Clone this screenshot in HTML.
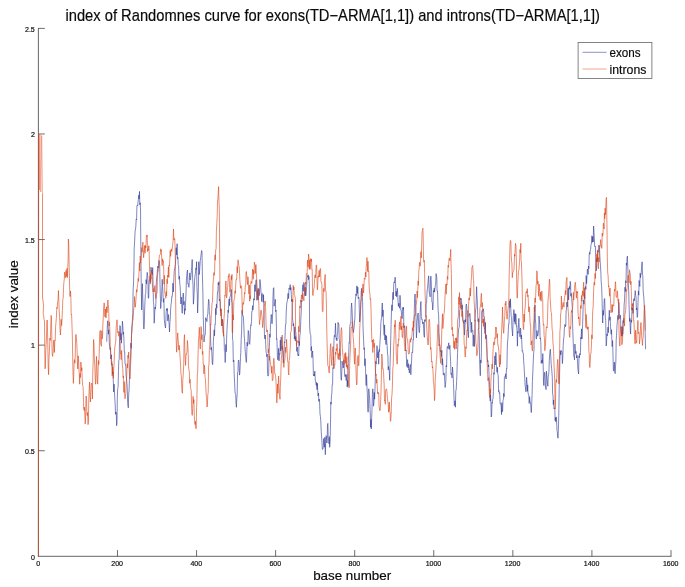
<!DOCTYPE html>
<html><head><meta charset="utf-8"><title>index of Randomnes</title>
<style>
html,body{margin:0;padding:0;background:#fff;}
body{width:685px;height:587px;overflow:hidden;font-family:"Liberation Sans",sans-serif;}
svg{display:block;font-family:"Liberation Sans",sans-serif;will-change:transform;transform:translateZ(0);opacity:0.999;}
</style></head><body>
<svg width="685" height="587" viewBox="0 0 685 587">
<rect width="685" height="587" fill="#fff"/>
<text x="65.5" y="21.2" font-size="16.2" fill="#0a0a0a" stroke="#0a0a0a" stroke-width="0.18" textLength="534.5" lengthAdjust="spacingAndGlyphs">index of Randomnes curve for exons(TD&#8722;ARMA[1,1]) and introns(TD&#8722;ARMA[1,1])</text>
<g stroke="#555" stroke-width="0.9" fill="none">
<line x1="38.4" y1="28.0" x2="38.4" y2="556.6999999999999"/>
<line x1="38.0" y1="556.3" x2="671.4" y2="556.3"/>
</g>
<g stroke="#484848" stroke-width="0.8" fill="none">
<line x1="117.47" y1="556.3" x2="117.47" y2="550.1"/><line x1="196.55" y1="556.3" x2="196.55" y2="550.1"/><line x1="275.62" y1="556.3" x2="275.62" y2="550.1"/><line x1="354.70" y1="556.3" x2="354.70" y2="550.1"/><line x1="433.77" y1="556.3" x2="433.77" y2="550.1"/><line x1="512.85" y1="556.3" x2="512.85" y2="550.1"/><line x1="591.92" y1="556.3" x2="591.92" y2="550.1"/><line x1="671.00" y1="556.3" x2="671.00" y2="550.1"/>
<line x1="38.4" y1="450.72" x2="44.8" y2="450.72"/><line x1="38.4" y1="345.14" x2="44.8" y2="345.14"/><line x1="38.4" y1="239.56" x2="44.8" y2="239.56"/><line x1="38.4" y1="133.98" x2="44.8" y2="133.98"/><line x1="38.4" y1="28.40" x2="44.8" y2="28.40"/>
</g>
<g fill="none" stroke-linejoin="round" stroke-linecap="butt">
<polyline stroke="#2b3596" stroke-width="0.6" points="106.7,341.7 107.2,328.4 107.6,321.0 108.0,320.7 108.4,334.2 108.9,329.7 109.3,342.9 109.7,347.6 110.1,349.5 110.5,347.6 110.9,359.0 111.4,354.8 111.8,365.3 112.2,364.1 112.6,374.0 113.0,372.0 113.3,381.0 113.7,392.0 114.1,384.1 114.4,390.5 114.8,398.8 115.2,404.7 115.5,414.3 115.9,412.0 116.3,412.8 116.6,425.7 117.0,422.5 117.3,397.8 117.7,388.6 118.1,387.4 118.5,370.4 118.8,360.6 119.2,359.3 119.6,336.0 119.9,325.6 120.3,326.7 120.7,339.8 121.0,333.4 121.4,343.2 121.7,337.3 122.1,330.9 122.4,321.2 122.8,325.3 123.2,334.3 123.5,332.2 123.9,338.7 124.3,352.0 124.7,352.0 125.0,363.8 125.4,363.9 125.8,366.4 126.1,375.2 126.5,378.3 126.9,383.4 127.2,386.7 127.6,401.0 127.9,405.1 128.3,407.8 128.7,394.1 129.1,389.9 129.4,379.5 129.8,375.6 130.2,360.0 130.6,356.8 130.9,343.1 131.3,348.2 131.7,326.8 132.0,325.4 132.4,320.0 132.8,312.4 133.1,290.1 133.5,284.0 133.9,269.8 134.2,248.2 134.6,242.0 135.1,231.0 135.5,229.2 135.8,226.8 136.2,219.2 136.6,220.0 136.9,206.5 137.3,205.0 137.7,205.7 138.0,202.1 138.4,199.6 138.8,195.2 139.1,198.8 139.5,191.4 139.8,204.8 140.2,202.7 140.5,209.0 141.0,266.0 141.3,290.8 141.7,310.0 142.1,289.4 142.4,283.7 142.8,298.5 143.2,308.9 143.5,326.1 143.9,329.0 144.3,325.7 144.7,307.8 145.0,300.8 145.4,294.0 145.8,293.4 146.1,279.6 146.5,283.8 146.9,275.7 147.2,272.4 147.6,275.0 147.9,279.2 148.3,298.3 148.7,298.1 149.1,282.5 149.4,279.8 149.8,279.3 150.2,276.1 150.6,282.3 151.0,267.2 151.5,271.8 151.9,271.8 152.3,274.7 152.7,267.6 153.1,286.9 153.4,301.6 153.8,305.5 154.2,323.2 154.6,315.1 155.0,307.0 155.4,309.1 155.9,303.4 156.3,282.8 156.7,277.3 157.1,275.0 157.5,268.8 157.8,266.0 158.2,268.1 158.6,267.6 158.9,260.4 159.3,261.7 159.7,265.0 160.0,283.8 160.3,294.7 160.7,308.6 161.1,302.4 161.4,301.7 161.8,289.9 162.2,279.3 162.6,286.2 163.0,294.6 163.4,302.3 163.9,298.4 164.3,319.4 164.7,323.3 165.1,326.0 165.5,328.0 165.8,322.4 166.2,311.1 166.6,308.6 167.0,310.5 167.4,308.5 167.8,320.9 168.3,314.5 168.7,318.0 169.1,324.5 169.5,332.0 169.9,322.7 170.2,319.8 170.6,310.1 171.0,304.5 171.4,302.3 171.8,296.7 172.1,296.9 172.5,294.0 172.9,283.1 173.3,292.0 173.7,283.3 174.2,271.2 174.6,268.8 175.0,266.6 175.4,264.6 175.8,257.1 176.2,247.7 176.7,254.9 177.1,243.7 177.5,258.8 177.9,257.4 178.2,264.8 178.6,265.5 179.0,279.3 179.4,276.2 179.8,284.0 180.1,286.3 180.5,294.0 180.9,304.0 181.2,297.0 181.6,299.0 182.0,311.5 182.3,313.3 182.7,300.3 183.0,294.0 183.4,293.1 183.8,304.9 184.1,301.3 184.5,314.4 184.9,308.7 185.2,310.4 185.6,302.4 186.0,293.5 186.4,280.1 186.7,276.2 187.1,272.0 187.5,270.0 187.8,283.9 188.2,283.5 188.6,286.6 189.0,287.3 189.4,277.7 189.8,272.9 190.2,279.9 190.6,279.8 191.0,274.5 191.4,270.7 191.8,266.7 192.2,259.5 192.6,278.5 193.0,284.7 193.4,304.2 193.8,299.1 194.2,291.1 194.6,280.3 195.0,274.9 195.4,273.9 195.8,268.2 196.2,269.6 196.6,261.7 196.9,286.6 197.3,295.0 197.6,313.0 198.0,303.3 198.4,287.1 198.8,261.7 199.2,274.6 199.5,272.0 199.9,266.6 200.3,260.4 200.8,257.1 201.2,253.2 201.6,250.5 202.0,251.5 202.4,274.9 202.9,294.0 203.2,314.8 203.6,327.8 203.9,336.0 204.0,342.0 204.4,337.3 204.8,335.8 205.3,333.9 205.7,317.7 206.1,320.0 206.5,319.6 206.9,321.6 207.3,316.7 207.8,313.5 208.2,306.2 208.6,299.3 209.0,301.2 209.4,314.7 209.8,315.6 210.2,327.0 210.6,339.3 211.0,349.8 211.5,347.4 211.9,355.0 212.3,364.0 212.7,364.7 213.0,356.5 213.4,341.4 213.8,335.0 214.2,329.8 214.5,335.8 214.9,324.4 215.3,324.6 215.7,308.3 216.0,314.8 216.4,304.2 216.8,308.2 217.1,300.5 217.5,292.1 217.9,292.2 218.2,282.7 218.6,285.0 219.0,281.6 219.3,300.9 219.7,299.3 220.1,301.2 220.4,311.2 220.8,308.6 221.2,311.6 221.6,322.7 222.0,325.9 222.5,319.3 222.9,324.0 223.3,329.1 223.7,336.0 224.1,338.2 224.4,350.7 224.8,351.8 225.2,362.5 225.5,355.2 225.9,344.5 226.2,351.8 226.6,339.0 227.0,329.3 227.3,323.8 227.7,318.7 228.1,310.0 228.4,312.6 228.8,301.5 229.2,298.8 229.5,305.7 229.9,297.1 230.3,296.2 230.6,294.5 231.0,292.7 231.3,289.6 231.7,301.9 232.1,302.7 232.4,313.2 232.5,339.3 232.9,340.1 233.3,361.9 233.8,360.1 234.2,374.0 234.6,383.2 235.0,391.7 235.3,393.8 235.7,394.7 236.0,402.8 236.4,407.3 236.8,399.0 237.2,393.7 237.5,372.9 237.9,371.4 238.3,361.2 238.7,360.0 239.1,363.6 239.4,375.1 239.8,373.5 240.2,365.1 240.5,357.4 240.8,352.3 241.2,339.3 241.6,331.8 242.0,310.3 242.3,311.1 242.7,315.7 243.1,315.6 243.4,317.3 243.8,324.8 244.2,335.2 244.5,338.5 244.9,346.6 245.3,352.0 245.7,356.0 246.1,361.2 246.4,362.4 246.8,351.9 247.1,342.2 247.5,346.1 247.8,344.6 248.2,330.5 248.6,332.0 248.9,335.2 249.3,343.9 249.7,344.3 250.0,340.7 250.4,329.8 250.8,324.8 251.1,325.5 251.5,321.7 251.8,311.5 252.2,311.4 252.6,305.7 252.9,310.0 253.3,307.2 253.7,298.6 254.1,300.2 254.4,300.0 254.8,284.7 255.2,291.5 255.5,287.6 255.9,282.5 256.2,279.7 256.6,295.6 256.9,300.3 257.3,295.6 257.7,290.1 258.1,300.0 258.4,289.0 258.8,288.8 259.2,295.7 259.6,291.4 259.9,279.5 260.3,282.5 260.6,286.1 261.0,292.3 261.4,294.0 261.7,301.5 262.1,293.9 262.4,293.5 262.8,294.2 263.2,302.3 263.5,294.8 263.9,307.3 264.2,322.8 264.5,336.4 264.9,338.9 265.3,335.0 265.7,343.8 266.1,352.2 266.5,353.7 266.9,356.9 267.2,354.2 267.6,374.6 267.9,376.1 268.3,375.9 268.7,374.4 269.0,352.1 269.4,346.3 269.8,333.9 270.1,337.3 270.5,324.6 270.9,319.2 271.2,314.4 271.6,317.4 272.0,323.8 272.3,319.6 272.7,312.9 273.0,296.5 273.4,288.3 273.8,287.7 274.1,306.2 274.5,304.4 274.9,303.1 275.3,299.3 275.7,311.6 276.0,310.1 276.4,326.0 276.5,339.3 276.9,338.6 277.4,356.2 277.8,359.8 278.2,356.7 278.6,348.3 279.0,360.9 279.4,353.6 279.9,354.3 280.3,340.0 280.7,351.0 281.1,337.1 281.5,340.7 281.9,349.3 282.2,346.3 282.6,347.5 283.0,354.3 283.3,363.0 283.7,359.8 284.1,350.4 284.4,341.8 284.8,342.7 285.2,331.9 285.5,324.6 285.9,324.6 286.2,313.1 286.6,305.4 286.9,302.2 287.3,301.5 287.7,296.2 288.1,293.3 288.6,298.6 289.0,288.2 289.4,289.3 289.8,286.9 290.2,284.6 290.6,290.1 290.9,287.5 291.3,294.5 291.7,301.5 292.1,299.4 292.4,317.7 292.8,320.7 293.2,326.0 293.6,323.5 294.0,329.4 294.4,339.1 294.9,326.9 295.3,340.9 295.7,336.4 296.1,339.3 296.5,342.4 296.8,351.4 297.2,347.1 297.5,352.3 297.9,355.4 298.3,354.6 298.7,356.0 299.0,341.3 299.4,345.6 299.8,336.4 300.2,333.7 300.5,327.1 300.9,317.3 301.3,310.5 301.6,300.6 302.0,301.5 302.4,290.5 302.9,284.7 303.3,291.3 303.7,282.5 304.1,282.7 304.5,285.5 304.9,295.6 305.3,287.0 305.7,296.0 306.1,293.8 306.6,287.6 307.0,278.3 307.4,275.7 307.8,276.6 308.2,274.9 308.6,279.6 308.9,276.3 309.3,284.0 309.6,326.0 310.0,332.0 310.4,334.7 310.8,335.3 311.1,350.8 311.5,346.6 311.9,357.6 312.2,353.3 312.6,351.0 313.0,358.3 313.4,375.0 313.7,375.9 314.1,374.3 314.4,375.9 314.8,371.1 315.2,378.8 315.5,381.6 315.9,383.2 316.3,385.4 316.6,382.4 317.0,389.7 317.4,383.3 317.7,390.3 318.1,396.0 318.5,393.0 318.9,401.5 319.2,399.0 319.6,402.7 320.0,414.0 320.4,416.4 320.8,420.9 321.2,431.2 321.6,437.2 321.9,440.8 322.3,449.2 322.7,449.5 323.0,448.5 323.4,445.9 323.7,438.6 324.2,444.4 324.5,447.2 324.9,437.1 325.3,454.7 325.7,443.3 326.1,435.6 326.5,436.3 326.8,443.0 327.1,442.1 327.5,424.7 327.9,423.4 328.2,437.8 328.6,438.6 329.0,443.9 329.3,436.6 329.7,447.3 330.1,441.3 330.5,423.9 330.8,402.0 331.1,404.3 331.5,395.4 331.9,392.8 332.2,384.4 332.6,384.4 332.9,367.7 333.3,368.6 333.6,354.4 334.0,339.3 334.4,335.3 334.8,336.9 335.1,332.4 335.5,323.2 335.9,336.8 336.2,339.3 336.6,338.0 336.9,340.8 337.3,334.7 337.7,332.3 338.0,322.4 338.4,323.9 338.8,323.6 339.2,339.3 339.6,339.6 339.9,350.1 340.2,352.3 340.6,365.6 341.0,378.7 341.4,380.3 341.8,371.7 342.1,361.2 342.5,364.4 342.8,365.8 343.2,368.0 343.6,366.0 343.9,359.9 344.3,368.6 344.7,375.0 345.0,376.7 345.4,374.5 345.8,377.0 346.1,380.7 346.5,380.3 346.9,374.4 347.2,387.2 347.5,380.4 347.9,386.1 348.3,362.8 348.7,354.0 349.1,342.7 349.4,343.2 349.8,326.9 350.1,324.6 350.5,323.3 350.9,321.9 351.2,308.3 351.6,303.0 352.0,308.7 352.4,318.0 352.8,326.0 353.1,330.1 353.5,332.5 353.8,329.0 354.1,327.5 354.5,322.0 354.9,318.2 355.2,302.9 355.6,298.1 356.0,293.9 356.3,295.7 356.7,286.1 357.1,285.9 357.4,293.5 357.8,287.2 358.2,298.6 358.6,297.0 359.0,297.9 359.3,309.7 359.7,322.0 360.1,318.0 360.5,311.8 360.8,304.8 361.2,291.7 361.6,288.3 361.9,293.0 362.3,296.5 362.6,301.5 363.0,326.0 363.2,332.0 363.6,340.2 364.0,349.5 364.4,347.8 364.8,365.7 365.1,358.7 365.5,368.6 365.9,381.5 366.2,385.5 366.6,374.6 367.0,387.6 367.4,395.1 367.7,409.4 368.1,412.2 368.5,408.5 368.8,388.8 369.2,394.5 369.6,398.0 369.9,403.6 370.3,415.1 370.6,427.3 371.0,419.4 371.3,429.0 371.6,420.5 372.0,409.3 372.4,393.0 372.8,388.8 373.2,394.1 373.5,406.2 373.9,403.4 374.3,392.4 374.6,399.2 375.0,389.0 375.4,375.2 375.8,361.2 376.1,364.1 376.5,357.4 376.9,345.7 377.2,346.6 377.6,357.8 377.9,355.2 378.3,351.7 378.7,364.2 379.1,349.5 379.4,351.6 379.8,344.7 380.2,339.3 380.6,330.4 380.9,322.2 381.2,320.1 381.6,317.3 382.0,307.0 382.3,303.0 382.7,316.5 383.1,309.9 383.5,326.0 383.9,331.8 384.2,335.3 384.6,324.9 384.9,340.0 385.3,334.9 385.6,340.0 386.0,344.6 386.4,335.7 386.7,340.7 387.1,345.2 387.5,354.0 387.9,355.8 388.2,369.8 388.5,366.5 388.9,368.6 389.3,372.1 389.7,380.3 390.0,365.9 390.4,354.0 390.8,335.5 391.1,324.6 391.5,310.4 391.9,304.8 392.2,310.8 392.6,298.6 393.0,292.2 393.3,299.6 393.7,284.8 394.1,281.9 394.4,282.8 394.8,279.5 395.2,277.2 395.6,283.2 395.9,296.0 396.3,291.2 396.6,296.8 397.0,294.6 397.3,288.3 397.7,293.9 398.1,302.4 398.4,306.4 398.8,303.2 399.2,305.9 399.6,308.2 400.0,295.3 400.4,301.5 400.8,310.3 401.3,310.4 401.7,316.1 402.1,318.7 402.4,315.3 402.8,307.5 403.1,309.5 403.5,307.3 403.9,327.8 404.3,326.0 404.7,325.9 405.1,338.0 405.4,342.1 405.8,351.0 406.1,350.1 406.5,360.2 406.9,366.7 407.2,361.2 407.6,359.6 407.9,367.8 408.3,363.7 408.7,370.0 409.0,369.4 409.4,373.0 409.8,366.4 410.1,364.8 410.5,364.4 410.8,374.8 411.2,367.0 411.5,362.0 411.9,352.2 412.2,352.0 412.6,352.6 413.1,339.3 413.5,339.6 413.8,322.2 414.2,315.0 414.6,298.4 415.1,294.0 415.5,303.4 416.0,316.3 416.4,337.9 416.8,330.4 417.1,321.0 417.5,318.5 417.8,314.1 418.2,313.0 418.6,323.9 419.1,332.5 419.5,332.6 419.8,324.3 420.2,312.4 420.5,306.3 420.9,301.5 421.3,316.6 421.7,319.4 422.2,319.2 422.6,323.7 423.0,323.8 423.3,322.0 423.6,328.5 424.0,335.2 424.4,337.3 424.7,319.7 425.1,321.6 425.5,319.2 425.9,318.6 426.2,303.8 426.6,303.3 426.9,294.4 427.3,289.0 427.6,288.2 428.0,282.4 428.3,279.0 428.7,275.8 429.1,289.5 429.4,293.7 429.8,293.8 430.1,296.9 430.5,279.2 430.9,276.2 431.2,280.9 431.6,291.7 431.9,302.2 432.3,302.3 432.7,310.0 433.1,306.0 433.4,290.6 433.8,291.8 434.2,288.2 434.6,292.2 435.0,287.9 435.3,285.5 435.7,284.1 436.1,273.6 436.4,275.2 436.8,278.6 437.1,291.1 437.5,291.0 437.9,303.1 438.2,311.6 438.6,314.3 439.0,332.8 439.3,336.2 439.6,343.6 440.0,346.1 440.4,351.7 440.7,350.9 441.1,352.6 441.4,356.5 441.8,350.1 442.2,365.1 442.5,358.6 442.9,365.0 443.3,375.1 443.6,375.0 444.0,372.9 444.4,373.7 444.7,380.0 445.1,387.5 445.5,384.7 445.9,380.6 446.2,365.5 446.6,367.0 447.0,349.4 447.3,346.5 447.7,347.1 448.0,348.4 448.4,345.3 448.8,342.8 449.1,349.3 449.5,348.0 449.9,345.3 450.2,353.9 450.6,361.2 451.0,374.3 451.3,373.3 451.7,375.7 452.1,377.9 452.5,367.0 452.9,373.5 453.2,376.4 453.5,383.5 453.9,394.8 454.3,405.7 454.6,404.5 455.0,400.8 455.4,407.2 455.8,390.5 456.2,390.1 456.6,381.6 456.9,374.8 457.3,360.7 457.6,352.3 458.1,337.0 458.5,330.0 458.9,327.8 459.2,327.2 459.6,310.4 460.0,310.0 460.4,298.2 460.8,299.6 461.2,298.5 461.6,301.2 461.9,309.3 462.3,304.9 462.7,319.0 463.0,321.3 463.4,321.6 463.8,323.5 464.1,320.2 464.5,335.1 464.9,328.9 465.3,319.5 465.6,321.9 466.0,305.6 466.4,304.0 466.8,307.0 467.2,323.9 467.6,323.8 468.0,335.0 468.4,337.7 468.8,324.9 469.1,314.7 469.5,315.0 469.9,313.3 470.3,318.6 470.8,325.3 471.2,332.6 471.6,322.2 472.0,330.0 472.4,331.2 472.8,330.6 473.2,346.3 473.6,334.9 474.0,337.0 474.4,346.5 474.8,326.9 475.1,320.4 475.5,310.0 475.9,309.0 476.2,301.0 476.6,286.7 477.0,297.1 477.3,299.6 477.7,315.4 478.1,321.6 478.4,318.7 478.8,329.0 479.2,335.3 479.6,359.8 479.9,368.2 480.3,375.7 480.7,359.9 481.0,362.9 481.4,352.3 481.7,311.4 482.1,310.5 482.4,311.2 482.8,311.4 483.2,309.6 483.5,308.8 483.9,317.2 484.3,316.8 484.6,320.5 485.0,333.7 485.4,322.5 485.7,338.8 486.1,334.8 486.5,335.8 486.8,343.1 487.2,356.4 487.6,361.7 487.9,360.6 488.3,367.0 488.7,364.8 489.1,377.5 489.4,381.3 489.8,388.9 490.2,401.1 490.5,394.5 490.9,402.9 491.2,417.0 491.6,416.0 492.0,402.4 492.3,403.3 492.7,399.2 493.1,398.3 493.4,391.3 493.8,372.7 494.2,374.3 494.6,360.9 494.9,355.9 495.3,364.9 495.7,352.3 496.1,352.8 496.5,365.3 497.0,372.3 497.4,367.3 497.8,374.3 498.2,375.2 498.6,391.6 498.9,390.5 499.3,393.3 499.7,392.7 500.1,403.8 500.5,403.6 500.8,404.1 501.2,407.1 501.5,414.5 501.9,402.6 502.2,411.9 502.6,411.2 503.0,400.6 503.4,399.2 503.7,393.3 504.1,396.8 504.4,377.2 504.8,376.7 505.2,377.2 505.6,373.8 506.1,379.0 506.5,368.2 506.9,368.6 507.2,351.6 507.5,342.0 507.9,338.9 508.3,330.4 508.6,324.1 509.0,324.2 509.4,309.6 509.7,300.6 510.1,307.5 510.4,298.8 510.8,308.9 511.2,316.4 511.6,317.0 511.9,328.0 512.3,331.5 512.6,336.0 513.0,324.3 513.4,315.3 513.8,309.6 514.1,310.9 514.5,321.7 514.9,313.5 515.2,324.3 515.6,314.0 516.0,314.0 516.4,326.3 516.7,325.8 517.0,330.8 517.4,346.2 517.8,331.3 518.1,333.2 518.5,322.4 518.9,318.4 519.3,329.0 519.6,331.8 520.0,336.9 520.4,328.1 520.7,329.2 521.1,338.9 521.5,335.0 521.9,344.7 522.2,351.2 522.6,350.6 523.0,353.4 523.3,353.4 523.6,360.2 524.0,365.3 524.4,372.8 524.8,379.1 525.1,385.8 525.5,387.0 525.9,391.8 526.2,387.6 526.6,377.3 527.0,382.6 527.4,391.3 527.7,384.9 528.0,392.5 528.4,394.3 528.8,395.0 529.2,403.4 529.6,396.7 529.9,400.1 530.3,402.5 530.7,404.5 531.1,411.9 531.4,412.6 531.8,401.5 532.1,394.3 532.4,381.6 532.8,373.0 533.1,365.0 533.6,353.6 534.0,349.8 534.3,329.4 534.6,312.6 535.0,305.0 535.4,318.7 535.8,324.6 536.1,338.8 536.5,338.9 536.9,330.5 537.3,333.0 537.7,336.2 538.2,333.8 538.6,332.4 539.0,316.1 539.4,319.9 539.8,325.9 540.1,338.9 540.5,337.9 540.9,344.6 541.2,363.4 541.6,360.9 542.0,359.9 542.4,363.3 542.8,353.6 543.1,362.1 543.5,381.1 543.8,385.5 544.1,378.0 544.5,372.3 544.9,372.9 545.3,386.3 545.7,386.2 546.0,389.6 546.4,371.2 546.7,373.8 547.1,379.6 547.5,384.1 547.9,386.2 548.2,376.8 548.6,374.7 548.9,372.3 549.3,360.4 549.6,355.7 550.0,350.8 550.4,349.2 550.8,357.2 551.2,364.4 551.6,368.2 551.9,371.9 552.3,377.3 552.6,394.3 553.0,395.0 553.3,404.6 553.6,399.9 554.0,408.9 554.4,407.9 554.8,408.3 555.1,420.5 555.5,417.7 555.9,421.8 556.2,416.9 556.6,420.8 557.0,430.9 557.3,431.6 557.7,436.6 558.0,438.2 558.5,425.9 558.9,408.9 559.2,387.3 559.5,379.6 559.9,359.4 560.3,350.6 560.7,354.8 561.1,351.5 561.5,350.6 562.0,352.3 562.4,363.6 562.8,358.0 563.2,345.3 563.6,338.9 564.0,336.4 564.3,329.2 564.6,326.5 565.0,324.3 565.4,326.8 565.8,325.4 566.1,311.0 566.5,309.6 566.9,302.0 567.3,306.9 567.7,294.7 568.2,288.0 568.6,299.9 569.0,288.7 569.4,286.5 569.8,289.4 570.2,281.4 570.6,284.0 570.9,296.3 571.2,293.3 571.6,298.2 571.9,301.2 572.3,307.4 572.6,324.3 573.1,338.9 573.5,348.6 573.8,356.5 574.2,357.1 574.5,359.8 574.9,344.0 575.3,349.2 575.6,353.5 576.0,351.4 576.4,355.9 576.7,358.0 577.1,355.3 577.5,360.9 577.8,368.2 578.2,371.1 578.6,374.0 579.0,355.7 579.3,357.8 579.7,353.6 580.1,355.1 580.4,354.2 580.8,337.4 581.1,338.9 581.5,328.9 581.9,339.1 582.2,336.0 582.6,324.3 582.9,315.9 583.3,300.5 583.6,300.0 584.0,304.2 584.4,292.7 584.7,298.8 585.1,291.1 585.5,286.5 585.9,289.4 586.2,275.6 586.6,283.6 587.0,276.2 587.4,268.9 587.8,269.5 588.1,274.4 588.5,266.0 588.9,268.7 589.2,254.8 589.5,252.4 589.9,254.3 590.3,250.0 590.6,249.5 591.0,244.6 591.4,244.0 591.8,235.8 592.1,236.1 592.4,242.3 592.8,236.7 593.2,242.0 593.6,226.0 594.0,232.3 594.3,238.3 594.7,246.5 595.0,247.0 595.4,246.4 595.8,261.6 596.1,271.0 596.5,268.9 596.9,258.0 597.2,261.8 597.6,256.6 598.0,251.4 598.4,252.1 598.7,245.2 599.0,245.6 599.4,245.5 599.8,255.0 600.2,261.6 600.5,266.2 600.9,273.3 601.2,282.3 601.6,285.8 602.0,297.3 602.3,309.6 602.7,323.0 603.1,310.4 603.5,315.2 603.9,308.1 604.3,299.1 604.7,298.5 605.0,310.3 605.4,317.9 605.7,320.4 606.2,346.0 606.6,341.9 606.9,333.8 607.3,335.8 607.6,334.3 608.0,327.1 608.3,332.7 608.6,318.9 609.0,316.5 609.3,310.2 609.8,320.4 610.1,316.9 610.5,326.3 610.8,330.7 611.2,334.3 611.5,329.7 611.9,340.9 612.2,346.6 612.6,340.6 612.9,351.1 613.4,371.1 613.8,370.5 614.3,362.0 614.8,372.5 615.2,373.6 615.5,367.0 615.9,360.0 616.2,340.3 616.5,335.8 617.0,325.5 617.3,322.2 617.7,316.6 618.0,315.3 618.3,319.5 618.7,302.2 619.0,305.0 619.4,313.6 619.8,318.6 620.1,316.7 620.5,315.3 620.8,328.4 621.1,330.7 621.6,335.8 622.0,326.7 622.4,336.3 622.7,324.1 623.1,320.4 623.4,323.1 623.8,317.3 624.1,305.1 624.6,299.0 625.0,287.2 625.3,291.7 625.7,280.7 626.0,282.9 626.4,263.0 626.7,265.3 627.0,258.2 627.4,256.1 627.9,270.4 628.2,280.7 628.7,290.9 629.2,310.2 629.6,321.4 629.9,318.1 630.3,330.7 630.6,334.0 631.0,320.0 631.3,320.4 631.6,322.4 632.0,307.5 632.3,310.2 632.7,308.3 633.1,313.5 633.5,299.5 634.0,298.6 634.4,300.8 634.8,295.7 635.2,290.6 635.6,295.0 636.0,297.1 636.4,310.0 636.8,307.9 637.2,317.4 637.6,316.0 638.0,302.8 638.4,290.9 638.8,295.2 639.1,280.5 639.5,283.7 639.8,286.5 640.2,273.1 640.5,277.6 640.8,275.1 641.2,273.8 641.5,268.4 641.9,262.7 642.2,261.8 642.5,275.0 642.8,275.5 643.2,290.9 643.5,294.9 643.8,297.0 644.2,305.0 644.6,310.2 645.1,330.7 645.6,349.3"/>
<polyline stroke="#dc4012" stroke-width="0.6" points="42.5,193.4 42.5,297.0 43.5,305.0 43.2,314.0 43.6,315.5 44.1,319.7 44.5,321.0 45.0,368.8 45.4,367.0 45.7,351.9 46.1,344.5 46.5,337.8 46.8,323.4 47.2,320.0 47.6,333.9 47.9,349.6 48.2,366.0 48.6,374.7 49.0,358.7 49.4,351.6 49.9,338.1 50.3,340.4 50.7,328.2 51.1,315.4 51.5,317.9 51.9,344.1 52.2,354.1 52.6,356.4 53.0,353.6 53.3,347.6 53.7,340.2 54.0,340.5 54.4,352.5 54.8,340.1 55.2,340.6 55.6,326.4 56.0,322.4 56.4,317.1 56.8,307.3 57.2,308.5 57.6,301.9 58.0,301.1 58.4,290.5 58.8,299.7 59.2,310.7 59.6,317.2 60.0,328.7 60.4,335.0 60.8,328.4 61.2,319.3 61.6,325.6 62.0,319.6 62.4,310.4 62.8,299.3 63.2,298.3 63.5,287.9 63.9,282.3 64.3,279.1 64.6,272.1 65.0,274.4 65.4,277.8 65.9,270.4 66.3,271.0 66.7,276.5 67.0,268.3 67.3,277.7 67.7,269.5 68.1,260.2 68.4,239.0 68.8,246.8 69.2,266.7 69.6,288.0 70.0,296.5 70.5,291.0 70.9,298.2 71.2,314.5 71.6,314.0 72.0,326.2 72.3,334.5 72.7,357.8 73.0,374.0 73.4,383.4 73.8,373.1 74.1,362.4 74.5,359.6 74.9,363.3 75.3,352.8 75.6,336.0 76.0,334.4 76.4,338.1 76.8,343.7 77.1,351.1 77.5,366.6 77.8,369.0 78.2,355.8 78.5,358.6 78.9,368.1 79.3,374.8 79.7,384.2 80.0,373.6 80.4,377.5 80.8,362.0 81.1,362.9 81.5,371.0 81.8,367.7 82.2,378.6 82.6,385.6 83.0,386.2 83.3,391.5 83.7,408.3 84.1,410.3 84.4,407.1 84.8,414.9 85.2,423.9 85.5,421.1 85.9,400.4 86.2,396.0 86.6,400.0 86.9,413.5 87.3,415.6 87.6,412.5 88.0,424.7 88.4,422.3 88.8,398.5 89.2,388.6 89.6,382.0 90.0,396.6 90.4,402.0 90.8,392.8 91.1,385.9 91.5,383.0 92.0,383.7 92.4,399.0 92.8,372.2 93.2,360.7 93.6,339.5 94.0,344.3 94.4,359.1 94.7,364.1 95.1,374.5 95.5,384.2 95.8,382.7 96.2,365.4 96.5,356.4 96.9,366.9 97.3,381.2 97.7,384.2 98.1,370.6 98.5,360.6 98.8,364.5 99.2,354.1 99.6,336.1 100.0,331.0 100.3,330.4 100.7,344.4 101.0,345.0 101.4,346.3 101.8,330.8 102.2,339.1 102.6,333.5 102.9,324.2 103.3,316.6 103.7,306.7 104.1,302.9 104.5,304.4 104.9,316.8 105.4,309.0 105.8,318.0 106.2,317.7 106.6,306.7 107.1,312.7 107.5,305.2 107.9,300.0 108.3,304.6 108.7,309.3 109.1,326.0 109.5,322.3 109.9,332.4 110.3,345.5 110.7,356.7 111.1,359.3 111.5,364.2 111.8,361.9 112.2,375.9 112.6,366.9 112.9,367.9 113.3,378.3 113.7,368.8 114.1,364.4 114.5,351.3 114.9,346.8 115.4,343.6 115.8,340.5 116.2,326.6 116.6,324.5 117.0,319.8 117.4,327.5 117.8,332.8 118.2,331.5 118.5,335.1 118.9,336.3 119.3,331.8 119.7,333.0 120.1,335.7 120.5,353.9 120.8,353.4 121.2,359.7 121.6,350.3 122.0,359.0 122.4,365.8 122.8,368.6 123.1,377.8 123.5,375.8 123.9,392.4 124.2,381.6 124.6,394.5 125.0,398.8 125.4,396.5 125.7,393.9 126.1,385.3 126.5,378.9 126.8,374.0 127.2,363.7 127.6,367.8 127.9,355.3 128.3,358.1 128.7,352.0 129.1,367.8 129.6,376.3 130.0,379.0 130.4,366.6 130.8,361.9 131.1,352.2 131.5,335.0 131.9,332.5 132.2,329.6 132.6,321.7 133.0,320.0 133.3,315.7 133.7,308.6 134.1,307.6 134.5,296.6 134.9,303.6 135.3,307.2 135.7,302.8 136.1,297.8 136.5,289.6 136.9,292.1 137.3,286.6 137.7,284.3 138.2,278.3 138.6,281.4 139.0,272.0 139.4,262.6 139.8,271.0 140.2,256.1 140.6,263.1 141.0,258.8 141.4,255.2 141.8,247.6 142.1,252.2 142.5,245.5 142.9,242.2 143.2,248.3 143.6,257.7 143.9,254.7 144.3,250.0 144.7,245.4 145.1,253.2 145.5,245.6 145.9,247.8 146.4,235.5 146.8,236.4 147.2,234.9 147.5,251.6 147.9,248.8 148.3,250.6 148.6,245.9 149.0,245.9 149.5,266.0 149.8,279.3 150.2,284.2 150.5,274.4 150.9,279.2 151.3,270.2 151.6,273.3 152.0,273.4 152.3,282.6 152.7,288.5 153.1,291.9 153.4,289.5 153.8,288.5 154.2,292.0 154.5,288.1 154.9,285.6 155.3,292.3 155.7,298.6 156.0,298.2 156.4,294.0 156.8,292.8 157.1,292.9 157.5,277.0 157.9,270.8 158.2,271.3 158.6,267.6 159.0,260.2 159.4,255.2 159.9,254.9 160.3,254.6 160.7,248.8 161.1,250.9 161.4,250.0 161.8,261.0 162.2,265.6 162.5,258.8 162.9,261.7 163.3,260.7 163.6,264.5 164.0,284.2 164.4,275.4 164.7,291.7 165.1,294.0 165.5,297.3 165.9,298.3 166.2,291.4 166.6,296.0 167.0,279.2 167.3,283.7 167.7,275.3 168.0,277.0 168.4,266.8 168.8,277.5 169.1,265.0 169.5,266.0 169.9,256.0 170.2,250.4 170.6,256.4 171.0,250.3 171.4,248.9 171.8,251.5 172.2,248.8 172.6,244.8 173.1,240.8 173.5,229.0 173.9,240.0 174.3,238.5 174.7,238.6 175.1,247.2 175.4,266.0 175.6,294.0 176.1,336.0 176.6,352.2 176.9,348.1 177.3,339.4 177.7,332.9 178.0,337.6 178.4,341.6 178.8,350.0 179.2,345.3 179.7,351.3 180.1,357.3 180.5,364.0 180.9,373.0 181.3,376.1 181.6,383.5 182.0,391.6 182.4,393.3 182.8,379.8 183.2,374.8 183.7,365.0 184.1,339.7 184.5,334.6 184.9,352.2 185.2,358.9 185.6,365.4 186.0,354.4 186.3,354.7 186.7,352.6 187.0,352.1 187.4,340.5 187.8,344.7 188.2,353.9 188.5,365.4 188.9,369.9 189.3,371.2 189.7,383.2 190.1,379.4 190.4,387.0 190.8,388.8 191.2,390.4 191.6,405.9 191.9,414.2 192.3,415.4 192.7,408.3 193.1,396.4 193.5,403.4 193.9,399.6 194.3,415.3 194.6,420.7 195.0,424.6 195.4,421.2 195.8,428.5 196.2,428.6 196.6,407.7 196.9,399.8 197.3,375.0 197.7,371.2 198.1,353.3 198.5,339.3 198.9,335.9 199.3,327.3 199.6,335.4 200.0,346.3 200.3,349.0 200.6,341.6 201.0,326.5 201.3,327.3 201.7,339.6 202.1,334.6 202.4,354.4 202.8,351.4 203.2,364.0 203.6,364.0 203.9,373.8 204.3,365.2 204.7,367.8 205.0,376.4 205.4,378.6 205.8,387.5 206.2,395.0 206.6,397.7 207.0,407.0 207.4,405.1 207.8,394.7 208.2,392.2 208.6,367.2 209.0,364.0 209.4,349.5 209.8,344.9 210.2,334.6 210.6,324.2 210.9,324.8 211.3,314.0 211.7,310.3 212.0,302.8 212.4,302.5 212.8,291.9 213.1,282.3 213.5,279.3 213.9,272.6 214.2,275.4 214.6,271.5 215.0,254.8 215.3,260.2 215.7,250.0 216.1,248.6 216.4,231.2 216.8,223.6 217.2,216.3 217.5,202.0 217.9,199.0 218.2,193.4 218.6,186.6 218.9,198.0 219.3,209.3 219.8,266.0 220.0,294.0 220.4,306.8 220.8,316.0 221.2,309.0 221.5,326.0 221.8,319.3 222.2,320.0 222.6,322.3 222.9,333.1 223.3,333.1 223.7,336.0 223.7,324.6 224.1,317.2 224.4,313.3 224.8,295.4 225.2,296.2 225.5,287.0 225.9,281.0 226.3,293.6 226.6,297.9 227.0,295.6 227.4,287.5 227.8,286.4 228.3,276.1 228.7,277.0 229.1,273.7 229.5,284.9 229.8,292.2 230.2,291.2 230.6,287.5 230.9,281.4 231.3,275.9 231.6,279.7 232.0,274.4 232.2,332.0 232.6,332.8 233.0,314.6 233.4,320.0 233.8,301.6 234.2,299.6 234.6,298.6 235.0,290.8 235.4,293.3 235.8,282.9 236.2,279.2 236.7,279.5 237.1,266.5 237.5,272.9 237.9,259.8 238.3,260.5 238.7,265.3 239.0,265.5 239.4,269.3 239.8,279.5 240.1,282.7 240.5,288.3 240.9,285.7 241.3,285.9 241.7,286.9 242.0,300.9 242.3,314.0 242.7,305.0 243.0,302.6 243.4,304.4 243.8,302.1 244.2,298.5 244.5,292.6 244.9,293.9 245.3,285.7 245.7,285.8 246.0,272.0 246.4,271.5 246.8,277.2 247.1,280.9 247.5,284.6 247.9,276.7 248.2,279.1 248.6,284.0 248.9,294.1 249.3,285.0 249.7,301.2 250.0,295.6 250.4,298.9 250.8,282.8 251.1,281.3 251.5,282.5 251.9,283.4 252.3,274.0 252.7,269.0 253.2,279.3 253.6,270.2 254.0,274.2 254.4,262.0 254.8,264.9 255.2,265.9 255.5,273.3 255.9,264.6 256.2,270.6 256.6,278.0 257.0,284.9 257.3,293.3 257.7,298.5 258.1,288.1 258.4,298.9 258.8,303.0 259.2,318.2 259.6,324.6 259.9,320.4 260.3,319.4 260.6,312.0 261.0,310.1 261.4,310.9 261.7,314.7 262.1,317.0 262.5,327.6 262.9,324.6 263.3,320.4 263.7,317.6 264.2,306.7 264.6,303.6 265.0,301.0 265.4,301.5 265.8,314.9 266.1,325.1 266.5,331.6 266.9,332.0 267.3,329.9 267.7,333.4 268.2,352.9 268.6,349.0 269.0,354.0 269.4,360.4 269.7,355.9 270.1,360.7 270.5,364.0 270.8,365.1 271.2,368.6 271.6,373.2 271.9,366.2 272.3,380.8 272.7,380.3 273.1,378.8 273.5,360.2 273.9,358.3 274.3,363.2 274.7,373.6 275.1,373.5 275.6,375.6 276.0,381.4 276.4,392.0 276.8,402.9 277.2,397.7 277.5,383.9 277.9,393.4 278.2,386.3 278.6,376.0 279.0,385.3 279.3,393.8 279.6,395.7 280.0,399.3 280.3,387.2 280.7,380.1 281.0,368.0 281.4,357.1 281.8,354.2 282.2,335.0 282.6,350.2 283.1,350.9 283.5,365.0 283.9,367.4 284.3,362.7 284.7,360.1 285.1,357.5 285.4,347.3 285.8,352.5 286.2,347.7 286.6,339.3 287.0,348.2 287.3,355.7 287.7,361.7 288.1,361.5 288.4,372.4 288.8,375.0 289.2,360.6 289.6,358.1 289.9,353.2 290.3,346.6 290.6,332.1 291.0,331.7 291.4,330.3 291.7,321.7 292.1,314.7 292.4,299.0 292.8,302.0 293.2,285.4 293.6,290.1 293.9,287.0 294.3,294.7 294.7,295.4 295.0,296.9 295.4,298.6 295.6,332.0 296.0,333.0 296.5,346.3 296.9,340.7 297.3,341.4 297.6,341.2 298.0,340.8 298.4,343.1 298.7,326.3 299.1,332.0 299.5,320.9 299.8,305.9 300.2,308.2 300.6,300.2 301.0,301.8 301.4,295.0 301.9,296.7 302.3,298.9 302.7,293.4 303.1,296.1 303.5,298.6 303.9,300.8 304.3,292.3 304.7,288.1 305.2,292.3 305.6,282.0 306.0,284.3 306.4,273.7 306.8,273.5 307.1,274.6 307.5,259.9 307.9,266.6 308.3,267.1 308.6,254.0 309.0,258.3 309.3,269.3 309.7,259.9 310.0,269.3 310.4,266.2 310.8,258.5 311.1,261.5 311.5,259.0 311.9,270.0 312.2,269.8 312.6,294.0 313.0,295.6 313.4,291.1 313.8,289.2 314.2,287.0 314.6,279.7 315.0,274.9 315.4,277.8 315.8,272.7 316.2,265.5 316.6,264.9 317.0,281.0 317.4,289.8 317.8,284.2 318.1,276.1 318.5,277.3 318.9,271.1 319.3,270.3 319.6,277.0 320.0,270.7 320.3,268.5 320.6,270.0 320.9,280.9 321.3,282.6 321.6,282.5 321.9,284.6 322.3,310.3 322.6,311.7 323.0,311.5 323.4,288.8 323.8,288.3 324.1,291.7 324.5,280.2 324.9,277.5 325.2,274.4 325.6,290.7 326.0,291.0 326.4,304.1 326.7,326.0 327.0,340.4 327.4,354.0 327.8,365.8 328.1,366.5 328.5,366.6 328.9,371.5 329.3,373.0 329.6,363.6 330.0,353.4 330.4,345.0 330.8,343.6 331.1,357.4 331.4,359.7 331.8,365.6 332.2,352.5 332.6,349.5 333.0,346.7 333.3,359.5 333.6,357.4 334.0,368.6 334.4,364.7 334.8,365.2 335.1,358.5 335.5,352.1 335.9,354.4 336.2,348.6 336.6,350.6 337.0,343.7 337.4,346.8 337.7,357.5 338.1,359.4 338.5,358.4 338.8,353.2 339.2,359.8 339.6,348.6 339.9,355.7 340.3,348.5 340.7,340.5 341.0,330.9 341.4,327.6 341.8,330.3 342.1,343.9 342.4,348.5 342.8,354.0 343.2,357.7 343.6,360.6 343.9,364.8 344.3,362.7 344.6,354.9 345.0,353.3 345.4,363.2 345.7,352.5 346.1,363.6 346.4,367.0 346.8,356.7 347.2,368.6 347.6,365.2 347.9,372.8 348.3,379.4 348.7,384.7 349.0,387.9 349.3,387.0 349.7,363.7 350.1,354.0 350.5,348.1 350.9,333.5 351.2,327.2 351.6,327.6 352.0,327.6 352.3,321.7 352.7,328.8 353.1,336.4 353.4,338.2 353.8,346.6 354.1,355.0 354.5,364.2 354.9,351.2 355.3,348.0 355.7,357.7 356.2,376.8 356.6,385.0 357.0,383.4 357.4,363.0 357.8,356.3 358.2,355.4 358.5,365.8 358.9,365.6 359.3,349.4 359.7,329.0 360.0,324.1 360.4,310.0 360.8,301.3 361.2,301.1 361.6,298.6 361.9,290.6 362.3,296.1 362.6,286.9 363.0,283.9 363.3,288.1 363.6,293.0 364.0,284.0 364.4,278.1 364.8,278.9 365.1,279.3 365.5,272.2 365.9,277.0 366.2,266.9 366.6,263.9 366.9,257.5 367.3,262.0 367.7,271.5 368.0,261.2 368.4,271.5 368.8,271.0 369.1,285.7 369.5,291.2 369.9,293.4 370.2,299.3 370.6,298.6 371.0,308.9 371.4,326.0 371.8,338.8 372.1,342.2 372.5,340.1 372.8,352.5 373.2,341.0 373.6,339.3 374.0,347.5 374.3,343.1 374.6,352.4 375.0,361.2 375.4,370.5 375.8,375.5 376.1,374.0 376.5,383.2 376.9,379.3 377.2,385.2 377.6,393.6 378.0,392.0 378.4,393.6 378.7,393.0 379.1,406.8 379.4,408.1 379.8,410.7 380.2,410.1 380.6,402.8 380.9,394.7 381.3,380.0 381.8,354.0 382.2,357.8 382.7,368.9 383.1,368.6 383.5,371.8 383.8,378.3 384.2,386.0 384.5,401.1 384.9,400.5 385.3,404.3 385.6,390.4 386.0,389.4 386.4,388.8 386.8,390.7 387.1,394.3 387.5,398.7 387.9,402.5 388.2,403.7 388.6,412.2 389.0,408.2 389.3,402.0 389.7,411.6 390.1,411.8 390.4,421.4 390.8,420.3 391.2,412.8 391.6,397.7 392.0,394.6 392.4,386.0 392.8,368.6 393.2,365.3 393.7,345.4 394.1,339.3 394.5,324.8 394.8,326.8 395.2,320.2 395.6,329.7 395.9,338.9 396.3,354.5 396.6,357.8 397.0,364.2 397.4,363.1 397.8,344.3 398.1,346.3 398.5,339.3 398.9,340.2 399.2,325.4 399.6,321.9 400.0,329.7 400.3,328.2 400.7,318.8 401.1,316.1 401.4,329.9 401.8,325.9 402.1,336.4 402.5,337.6 402.9,333.0 403.2,323.2 403.6,324.6 404.0,326.4 404.3,342.3 404.6,344.8 405.0,351.0 405.4,349.3 405.8,336.8 406.1,329.6 406.5,326.1 406.9,337.8 407.2,338.3 407.6,339.9 408.0,345.3 408.3,352.7 408.7,354.0 409.1,353.9 409.4,353.7 409.8,341.5 410.2,339.3 410.6,342.2 410.9,338.2 411.3,339.5 411.7,336.7 412.0,334.6 412.4,327.6 412.9,330.9 413.3,321.0 413.7,327.4 414.0,320.7 414.4,317.0 414.8,314.8 415.2,315.4 415.6,314.3 416.0,305.3 416.4,304.0 416.8,299.1 417.1,291.0 417.4,297.6 417.8,290.0 418.1,280.9 418.4,285.3 418.8,271.0 419.1,269.2 419.5,262.6 419.8,262.2 420.2,266.2 420.6,259.4 420.9,251.7 421.3,257.8 421.7,244.3 422.1,231.4 422.5,230.3 422.9,228.2 423.2,237.0 423.5,258.9 423.9,262.2 424.3,260.4 424.6,273.6 425.0,292.0 425.4,301.0 425.7,316.6 426.1,315.6 426.4,318.0 426.8,329.2 427.1,334.3 427.6,341.1 428.0,345.0 428.4,343.4 428.9,320.0 429.3,319.3 429.7,322.7 430.1,334.0 430.5,349.4 430.9,347.5 431.2,350.8 431.6,361.9 432.0,361.1 432.4,367.8 432.7,366.7 433.0,371.1 433.4,381.6 433.8,384.2 434.1,388.7 434.5,400.6 434.9,396.2 435.2,379.9 435.6,374.3 436.0,367.8 436.4,359.6 436.8,357.0 437.1,343.6 437.5,333.7 437.8,324.5 438.2,325.2 438.6,340.6 438.9,345.9 439.3,343.6 439.7,346.7 440.1,356.0 440.5,361.0 440.8,363.4 441.2,350.0 441.5,345.0 441.8,328.7 442.1,321.9 442.5,313.8 442.8,328.6 443.1,325.7 443.5,320.1 443.9,314.2 444.3,312.2 444.8,302.6 445.2,292.0 445.6,290.2 445.9,284.1 446.2,294.2 446.6,283.8 447.0,285.0 447.4,276.4 447.8,279.4 448.1,265.3 448.5,267.3 448.8,261.9 449.1,258.2 449.5,258.9 449.9,260.8 450.3,256.2 450.7,249.4 451.0,263.3 451.4,273.6 451.7,301.0 451.9,329.9 452.4,327.2 452.8,336.1 453.2,334.2 453.5,341.0 453.9,348.0 454.3,341.4 454.7,349.3 455.1,340.8 455.5,338.0 455.9,341.6 456.2,348.9 456.5,337.8 456.9,343.0 457.3,335.3 457.6,320.4 458.0,318.0 458.4,316.2 458.8,296.8 459.1,304.4 459.5,292.6 459.9,303.5 460.3,308.1 460.7,307.7 461.1,302.4 461.4,307.3 461.8,316.7 462.1,314.8 462.5,310.9 463.0,320.4 463.4,323.7 463.8,329.9 464.2,344.8 464.6,345.2 465.0,356.1 465.4,357.0 465.8,346.9 466.2,348.4 466.6,335.3 467.0,330.0 467.4,330.8 467.8,310.5 468.2,316.8 468.6,305.0 469.0,297.8 469.3,300.1 469.7,297.0 470.1,288.0 470.4,296.0 470.8,288.2 471.2,280.6 471.6,275.9 471.9,267.4 472.3,266.9 472.7,265.5 473.0,270.1 473.4,279.4 473.7,280.9 474.1,301.0 474.5,307.3 474.8,321.2 475.2,319.9 475.5,333.4 475.9,343.6 476.3,345.0 476.7,355.7 477.1,355.5 477.5,352.0 477.9,347.0 478.4,328.4 478.8,329.0 479.2,321.4 479.6,321.6 479.9,308.0 480.3,307.0 480.7,303.5 481.0,297.2 481.4,293.3 481.9,307.0 482.3,302.6 482.8,323.2 483.2,318.7 483.6,326.4 483.9,318.9 484.3,328.4 484.7,329.0 485.1,328.2 485.4,332.4 485.8,337.9 486.1,340.0 486.5,345.1 486.9,354.4 487.2,363.9 487.6,374.3 488.0,380.8 488.4,377.5 488.7,380.1 489.1,388.9 489.5,397.2 489.8,397.7 490.2,388.9 490.6,393.6 490.9,381.2 491.3,374.3 491.6,374.4 492.0,364.1 492.4,368.8 492.7,359.6 493.1,349.0 493.4,346.2 493.8,341.8 494.2,345.0 494.5,344.4 494.9,337.7 495.3,338.7 495.6,327.2 496.0,328.4 496.4,327.5 496.8,337.6 497.1,337.8 497.4,333.7 497.8,345.0 498.2,345.0 498.5,348.0 498.9,351.8 499.2,361.1 499.6,367.0 500.0,354.8 500.4,364.4 500.8,352.3 501.2,339.7 501.6,329.8 502.1,320.8 502.5,307.0 502.9,320.3 503.3,330.0 503.7,333.3 504.1,326.2 504.4,319.7 504.8,315.7 505.2,303.6 505.5,305.0 505.9,301.1 506.3,310.9 506.7,314.0 507.1,319.2 507.5,313.7 508.0,308.9 508.4,305.4 508.8,301.0 509.2,273.9 509.6,260.3 510.0,244.3 510.4,240.4 510.9,241.8 511.2,254.3 511.6,261.6 511.9,263.0 512.3,277.7 512.7,272.7 513.1,271.9 513.5,271.3 513.8,270.4 514.1,267.3 514.5,254.3 514.8,256.2 515.2,248.9 515.5,243.3 516.0,246.6 516.4,261.6 516.7,284.4 517.0,298.2 517.4,297.7 517.8,284.4 518.2,276.2 518.5,270.8 518.9,270.4 519.2,266.0 519.6,261.6 520.0,249.4 520.4,253.0 520.8,243.3 521.1,260.7 521.4,261.6 521.8,272.9 522.1,283.6 522.6,311.0 523.0,323.5 523.3,328.7 523.7,329.6 524.0,314.0 524.4,321.9 524.8,309.6 525.2,308.0 525.6,297.5 526.0,292.1 526.5,291.3 526.9,293.3 527.3,288.7 527.7,296.7 528.0,295.1 528.4,302.6 528.8,311.9 529.2,306.7 529.5,310.2 529.9,317.8 530.2,324.3 530.6,324.2 531.0,345.0 531.4,343.3 531.8,340.8 532.1,350.6 532.5,350.9 532.9,338.2 533.2,331.9 533.6,324.3 534.0,318.8 534.3,307.1 534.6,311.5 535.0,298.0 535.3,302.5 535.7,295.7 536.0,286.5 536.4,283.6 536.8,270.8 537.2,272.6 537.6,284.2 538.0,281.2 538.4,290.9 538.7,296.4 539.1,284.0 539.4,287.2 539.8,291.9 540.1,299.8 540.5,292.3 540.9,301.1 541.2,301.2 541.6,292.4 541.9,291.0 542.3,298.2 542.7,299.3 543.0,319.5 543.4,325.2 543.8,324.3 544.1,335.8 544.5,338.6 544.8,350.6 545.2,347.2 545.6,342.0 546.0,331.6 546.4,326.7 546.8,327.3 547.1,328.0 547.5,319.9 547.9,303.4 548.2,298.2 548.6,295.0 549.0,286.6 549.4,279.2 549.8,282.6 550.1,298.2 550.4,301.1 550.8,309.0 551.1,312.6 551.5,312.9 551.9,324.3 552.2,330.1 552.6,331.2 552.9,341.9 553.3,346.2 553.6,351.3 554.0,364.5 554.3,370.0 554.7,381.6 555.1,408.9 555.5,402.0 555.8,383.3 556.2,379.6 556.6,382.4 557.0,371.2 557.3,363.9 557.7,359.4 558.1,366.1 558.5,377.9 558.9,384.0 559.2,369.8 559.6,353.5 559.9,331.6 560.3,327.0 560.6,313.6 561.0,313.3 561.4,296.0 561.7,305.4 562.1,309.4 562.4,307.0 562.8,304.0 563.1,302.5 563.5,303.1 563.9,307.2 564.3,299.1 564.6,297.3 565.0,295.3 565.4,290.5 565.8,294.8 566.1,281.2 566.5,280.6 566.9,277.4 567.3,293.2 567.7,293.8 568.0,308.3 568.4,313.2 568.7,317.0 569.0,328.2 569.4,336.0 569.8,337.4 570.1,326.8 570.5,328.8 570.9,324.3 571.2,313.3 571.6,310.6 571.9,312.4 572.3,309.6 572.7,306.5 573.0,301.5 573.4,292.5 573.7,300.1 574.1,293.8 574.5,288.7 575.0,282.8 575.4,282.2 575.7,287.2 576.0,292.6 576.4,298.2 576.8,291.2 577.2,293.1 577.6,291.7 578.0,312.0 578.5,319.0 578.9,317.0 579.3,324.2 579.7,325.7 580.0,323.9 580.4,309.6 580.8,305.3 581.1,308.6 581.5,295.5 581.9,301.3 582.2,295.0 582.6,290.9 583.0,295.6 583.3,286.5 583.7,282.2 584.0,296.6 584.4,287.8 584.8,296.7 585.1,307.5 585.5,317.0 585.9,327.6 586.2,314.4 586.6,321.4 587.0,328.7 587.4,327.1 587.8,329.4 588.1,326.7 588.5,336.0 588.9,351.5 589.2,353.6 589.5,365.9 589.9,367.5 590.3,360.4 590.6,354.4 591.0,353.0 591.4,346.2 591.8,334.8 592.1,338.9 592.5,316.3 592.8,309.6 593.2,307.0 593.6,290.9 594.0,283.2 594.3,282.1 594.6,285.1 595.0,273.3 595.4,278.5 595.8,267.0 596.1,259.5 596.5,261.6 596.8,254.2 597.2,261.0 597.5,249.9 598.0,266.1 598.4,268.9 598.7,257.4 599.1,262.0 599.4,250.0 599.8,245.9 600.2,246.3 600.7,239.6 601.1,243.6 601.5,248.2 601.9,248.3 602.2,233.0 602.6,236.2 603.0,234.6 603.3,223.2 603.7,224.5 604.1,229.0 604.4,213.0 604.8,218.7 605.1,208.1 605.5,214.7 605.8,207.0 606.1,199.0 606.5,197.4 607.0,228.9 607.3,256.7 607.7,272.9 608.1,275.5 608.5,286.9 608.8,285.8 609.3,290.9 609.6,296.2 610.0,288.1 610.3,296.0 610.7,304.0 611.0,312.8 611.4,310.0 611.7,309.8 612.1,304.4 612.4,312.3 612.7,305.5 613.1,304.9 613.4,306.1 613.8,305.9 614.1,293.3 614.5,289.3 614.9,290.9 615.4,281.7 615.7,284.4 616.0,296.0 616.4,297.1 616.9,297.5 617.3,290.9 617.6,293.8 618.0,301.1 618.4,302.8 618.7,299.0 619.0,330.7 619.5,343.9 619.9,346.1 620.3,336.8 620.7,326.3 621.1,326.6 621.4,328.6 621.8,344.7 622.1,342.9 622.4,342.7 622.8,333.0 623.1,333.7 623.4,331.6 623.8,317.9 624.1,320.4 624.5,326.1 624.9,314.3 625.3,313.2 625.7,310.2 626.0,304.3 626.4,289.6 626.7,290.9 627.1,287.5 627.5,280.7 627.9,276.3 628.3,275.1 628.7,278.6 629.1,282.9 629.5,269.8 629.9,272.2 630.3,275.0 630.6,284.6 631.0,281.3 631.3,290.9 631.8,310.0 632.2,303.9 632.6,306.2 633.0,303.1 633.5,320.4 633.9,320.2 634.3,330.7 634.7,339.6 635.1,343.9 635.6,330.1 636.0,339.8 636.4,342.9 636.7,343.1 637.1,332.8 637.4,330.7 637.9,320.4 638.3,333.6 638.7,332.1 639.1,332.6 639.5,343.9 639.9,339.5 640.2,335.7 640.6,325.5 641.0,322.5 641.4,330.9 641.8,338.8 642.1,340.0 642.5,345.5 642.8,338.9 643.2,338.0 643.5,325.5 643.8,321.0 644.1,310.2 644.6,305.2 644.9,314.0 645.3,329.9 645.6,330.7"/>
<polyline stroke="#dc4012" stroke-width="0.6" points="38.4,556.3 38.7,134.2"/>
<polyline stroke="#dc4012" stroke-width="0.38" points="38.7,134.2 39.3,190 39.9,134.5 40.8,192 41.7,135.5 42.5,193.4"/>
</g>
<g font-size="7.9" fill="#111" stroke="#111" stroke-width="0.22"><text x="38.10" y="566.3" text-anchor="middle" textLength="3.91" lengthAdjust="spacingAndGlyphs">0</text><text x="117.17" y="566.3" text-anchor="middle" textLength="11.73" lengthAdjust="spacingAndGlyphs">200</text><text x="196.25" y="566.3" text-anchor="middle" textLength="11.73" lengthAdjust="spacingAndGlyphs">400</text><text x="275.32" y="566.3" text-anchor="middle" textLength="11.73" lengthAdjust="spacingAndGlyphs">600</text><text x="354.40" y="566.3" text-anchor="middle" textLength="11.73" lengthAdjust="spacingAndGlyphs">800</text><text x="433.47" y="566.3" text-anchor="middle" textLength="15.64" lengthAdjust="spacingAndGlyphs">1000</text><text x="512.55" y="566.3" text-anchor="middle" textLength="15.64" lengthAdjust="spacingAndGlyphs">1200</text><text x="591.62" y="566.3" text-anchor="middle" textLength="15.64" lengthAdjust="spacingAndGlyphs">1400</text><text x="670.70" y="566.3" text-anchor="middle" textLength="15.64" lengthAdjust="spacingAndGlyphs">1600</text><text x="34.8" y="559.60" text-anchor="end" textLength="3.91" lengthAdjust="spacingAndGlyphs">0</text><text x="34.8" y="454.02" text-anchor="end" textLength="9.77" lengthAdjust="spacingAndGlyphs">0.5</text><text x="34.8" y="348.44" text-anchor="end" textLength="3.91" lengthAdjust="spacingAndGlyphs">1</text><text x="34.8" y="242.86" text-anchor="end" textLength="9.77" lengthAdjust="spacingAndGlyphs">1.5</text><text x="34.8" y="137.28" text-anchor="end" textLength="3.91" lengthAdjust="spacingAndGlyphs">2</text><text x="34.8" y="31.70" text-anchor="end" textLength="9.77" lengthAdjust="spacingAndGlyphs">2.5</text></g>
<text x="352.2" y="580" font-size="13.4" fill="#0a0a0a" stroke="#0a0a0a" stroke-width="0.18" text-anchor="middle" textLength="78" lengthAdjust="spacingAndGlyphs">base number</text>
<text transform="translate(18.4,294.2) rotate(-90)" font-size="13.4" fill="#0a0a0a" stroke="#0a0a0a" stroke-width="0.18" text-anchor="middle" textLength="68" lengthAdjust="spacingAndGlyphs">index value</text>
<rect x="578.1" y="42.4" width="73.8" height="36.1" fill="#fff" stroke="#666" stroke-width="0.8"/>
<line x1="582.5" y1="52.3" x2="606.6" y2="52.3" stroke="#7077bb" stroke-width="0.8"/>
<line x1="582.5" y1="69" x2="606.6" y2="69" stroke="#f09070" stroke-width="0.8"/>
<text x="609.5" y="57" font-size="13.4" fill="#0a0a0a" stroke="#0a0a0a" stroke-width="0.18" textLength="31.1" lengthAdjust="spacingAndGlyphs">exons</text>
<text x="609.5" y="73.5" font-size="13.4" fill="#0a0a0a" stroke="#0a0a0a" stroke-width="0.18" textLength="36.9" lengthAdjust="spacingAndGlyphs">introns</text>
</svg>
</body></html>
